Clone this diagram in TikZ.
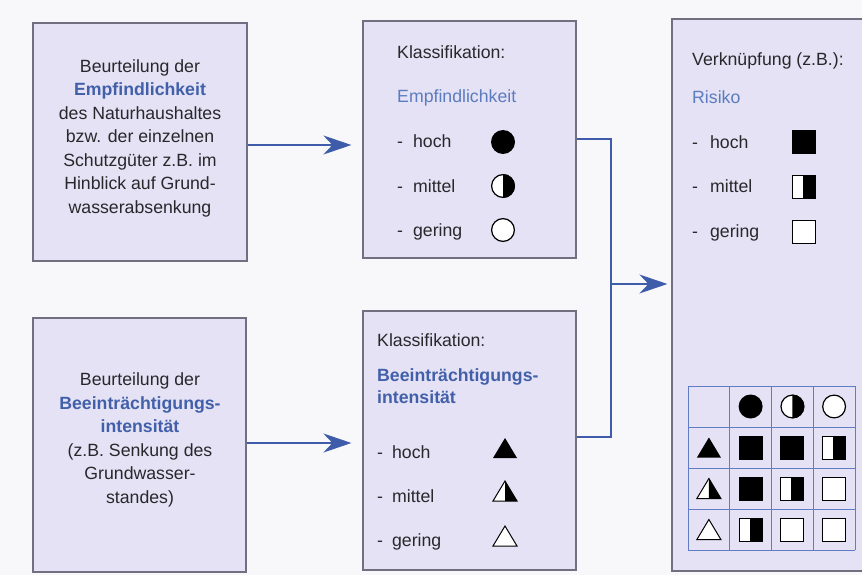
\documentclass[tikz,border=0pt]{standalone}
\usepackage{fontspec}
\setmainfont{Liberation Sans}
\usetikzlibrary{arrows.meta}

\definecolor{kastenfarbe}{RGB}{228,226,244}
\definecolor{randfarbe}{RGB}{112,112,128}
\definecolor{pfeilblau}{RGB}{62,92,170}
\definecolor{textblau}{RGB}{66,96,170}
\definecolor{hellblau}{RGB}{92,124,192}
\definecolor{gitterblau}{RGB}{96,124,196}
\definecolor{schrift}{RGB}{40,40,44}
\definecolor{grund}{RGB}{248,248,250}

% Symbole: H = hoch, M = mittel, G = gering
\newcommand{\kreisH}[1]{\fill #1 circle (12pt);}
\newcommand{\kreisM}[1]{\filldraw[fill=white,line width=1.2pt] #1 circle (11.4pt);
  \fill #1 ++(0pt,-12pt) arc (-90:90:12pt) -- cycle;}
\newcommand{\kreisG}[1]{\filldraw[fill=white,line width=1.2pt] #1 circle (11.4pt);}
\newcommand{\dreieckH}[1]{\fill #1 ++(-12pt,-10pt) -- ++(24pt,0pt) -- ++(-12pt,20pt) -- cycle;}
\newcommand{\dreieckM}[1]{\filldraw[fill=white,line width=1pt] #1 ++(-12pt,-10pt) -- ++(24pt,0pt) -- ++(-12pt,20pt) -- cycle;
  \fill #1 ++(0pt,-10pt) -- ++(12pt,0pt) -- ++(-12pt,20pt) -- cycle;}
\newcommand{\dreieckG}[1]{\filldraw[fill=white,line width=1pt] #1 ++(-12pt,-10pt) -- ++(24pt,0pt) -- ++(-12pt,20pt) -- cycle;}
\newcommand{\quadratH}[1]{\fill #1 ++(-12pt,-12pt) rectangle ++(24pt,24pt);}
\newcommand{\quadratM}[1]{\filldraw[fill=white,line width=1pt] #1 ++(-11.5pt,-11.5pt) rectangle ++(23pt,23pt);
  \fill #1 ++(-1pt,-12pt) rectangle ++(13pt,24pt);}
\newcommand{\quadratG}[1]{\filldraw[fill=white,line width=1pt] #1 ++(-11.5pt,-11.5pt) rectangle ++(23pt,23pt);}

\begin{document}
\begin{tikzpicture}[x=1pt,y=-1pt,
  kasten/.style={draw=randfarbe, fill=kastenfarbe, line width=1.2pt, inner sep=0pt},
  txt/.style={font=\fontsize{17.7}{23.5}\selectfont, text=schrift, inner sep=0pt},
  zeile/.style={txt, anchor=base west},
  linie/.style={draw=pfeilblau, line width=2pt},
  pfeil/.style={linie, -{Stealth[length=28pt,width=19pt,inset=9pt]}},
  gitter/.style={draw=gitterblau, line width=1pt}]
  \useasboundingbox (0,0) rectangle (862,575);
  \fill[grund] (0,0) rectangle (862,575);

  % Kaesten
  \node[kasten, minimum width=214pt, minimum height=238pt] (beurt1) at (140,142) {};
  \node[kasten, minimum width=213pt, minimum height=254pt] (beurt2) at (139.5,445) {};
  \node[kasten, minimum width=213pt, minimum height=237pt] (klass1) at (469.5,139.5) {};
  \node[kasten, minimum width=213pt, minimum height=259pt] (klass2) at (469.5,440.5) {};
  \node[kasten, minimum width=198pt, minimum height=552pt] (verkn) at (771,295) {};

  % Texte links
  \node[txt, align=center] (text1) at (140,138) {Beurteilung der\\
    \textcolor{textblau}{\bfseries Empfindlichkeit}\\ des Naturhaushaltes\\ bzw. der einzelnen\\
    Schutzgüter z.B. im\\ Hinblick auf Grund-\\ wasserabsenkung};
  \node[txt, align=center] (text2) at (140,440) {Beurteilung der\\
    \textcolor{textblau}{\bfseries Beeinträchtigungs-}\\ \textcolor{textblau}{\bfseries intensität}\\
    (z.B. Senkung des\\ Grundwasser-\\ standes)};

  % Klassifikation Empfindlichkeit
  \node[zeile] (k1titel) at (397,59) {Klassifikation:};
  \node[zeile, text=hellblau] (k1name) at (397,103) {Empfindlichkeit};
  \node[zeile] (k1hoch) at (397,148) {-\hspace{10pt}hoch};
  \node[zeile] (k1mittel) at (397,192) {-\hspace{10pt}mittel};
  \node[zeile] (k1gering) at (397,236) {-\hspace{10pt}gering};
  \kreisH{(503,142)}
  \kreisM{(503,186)}
  \kreisG{(503,230)}

  % Klassifikation Beeintraechtigungsintensitaet
  \node[zeile] (k2titel) at (377,346) {Klassifikation:};
  \node[zeile, text=textblau, font=\fontsize{17.7}{23.5}\selectfont\bfseries] (k2name) at (377,381) {Beeinträchtigungs-};
  \node[zeile, text=textblau, font=\fontsize{17.7}{23.5}\selectfont\bfseries] (k2name2) at (377,403) {intensität};
  \node[zeile] (k2hoch) at (377,458) {-\hspace{9pt}hoch};
  \node[zeile] (k2mittel) at (377,502) {-\hspace{9pt}mittel};
  \node[zeile] (k2gering) at (377,546) {-\hspace{9pt}gering};
  \dreieckH{(505,448)}
  \dreieckM{(505,491)}
  \dreieckG{(505,536)}

  % Verknuepfung
  \node[zeile] (vtitel) at (692,66) {Verknüpfung (z.B.):};
  \node[zeile, text=hellblau] (vname) at (692,104) {Risiko};
  \node[zeile] (vhoch) at (692,149) {-\hspace{12pt}hoch};
  \node[zeile] (vmittel) at (692,193) {-\hspace{12pt}mittel};
  \node[zeile] (vgering) at (692,237) {-\hspace{12pt}gering};
  \quadratH{(804,142)}
  \quadratM{(804,187)}
  \quadratG{(804,232)}

  % Matrix
  \foreach \i in {0,...,4} {
    \draw[gitter] (688+41.75*\i,386) -- (688+41.75*\i,550);
    \draw[gitter] (688,386+41*\i) -- (855,386+41*\i);
  }
  \kreisH{(750.6,406.5)} \kreisM{(792.4,406.5)} \kreisG{(834.1,406.5)}
  \dreieckH{(708.9,447.5)} \quadratH{(750.6,447.5)} \quadratH{(792.4,447.5)} \quadratM{(834.1,447.5)}
  \dreieckM{(708.9,488.5)} \quadratH{(750.6,488.5)} \quadratM{(792.4,488.5)} \quadratG{(834.1,488.5)}
  \dreieckG{(708.9,529.5)} \quadratM{(750.6,529.5)} \quadratG{(792.4,529.5)} \quadratG{(834.1,529.5)}

  % Verbindungen
  \coordinate (knoten) at (611,284);
  \draw[pfeil, shorten >=11pt] ([yshift=-3pt]beurt1.east) -- ([yshift=-3pt]beurt1.east -| klass1.west);
  \draw[pfeil, shorten >=11pt] ([yshift=2pt]beurt2.east) -- ([yshift=2pt]beurt2.east -| klass2.west);
  \draw[linie] (klass1.east) -| (knoten) |- ([yshift=3.5pt]klass2.east);
  \draw[pfeil, shorten >=4pt] (knoten) -- (knoten -| verkn.west);
\end{tikzpicture}
\end{document}
